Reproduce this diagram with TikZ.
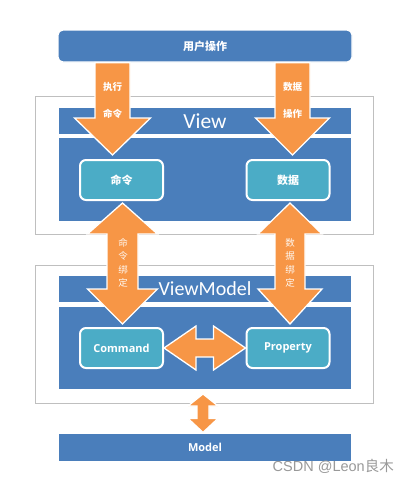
\documentclass[tikz,border=0pt]{standalone}
\usepackage{fontspec}
\setmainfont{Carlito}
\newfontfamily\cjk{Noto Sans CJK SC}
\newfontfamily\boldsans{Open Sans}
\newfontfamily\wmfont{Liberation Sans}
\usetikzlibrary{calc}
\definecolor{barblue}{HTML}{4A7EBB}
\definecolor{teal}{HTML}{4BACC6}
\definecolor{orng}{HTML}{F79646}
\definecolor{outgray}{HTML}{BFBFBF}
\tikzset{
  outerbox/.style={draw=outgray, line width=1pt, fill=white},
  bar/.style={fill=barblue, draw=white, line width=1.2pt, inner sep=0pt},
  tealbox/.style={fill=teal, draw=white, line width=2pt, rounded corners=6pt, inner sep=0pt,
    minimum width=83pt, minimum height=40pt, text=white, font=\boldsans\bfseries\fontsize{11}{13}\selectfont},
  arrowshape/.style={fill=orng, draw=white, line width=1.3pt, line join=miter},
  arrlabel/.style={text=white, font=\cjk\bfseries\fontsize{9.5}{11}\selectfont, inner sep=0pt},
  vlabel/.style={text=white!92!orng, font=\cjk\fontsize{9.5}{13.5}\selectfont, align=center, inner sep=0pt},
}
% down single arrow: #1 start, #2 tip, #3 shaft half, #4 head half, #5 head length
\newcommand\mydownarrow[5]{%
  \draw[arrowshape] ($(#1)+(-#3,0)$) -- ($(#2)+(-#3,-#5)$) -- ($(#2)+(-#4,-#5)$) -- (#2)
    -- ($(#2)+(#4,-#5)$) -- ($(#2)+(#3,-#5)$) -- ($(#1)+(#3,0)$) -- cycle;}
% vertical double arrow: #1 top tip, #2 bottom tip, #3 shaft half, #4 head half, #5 top head len, #6 bottom head len
\newcommand\myvdarrow[6]{%
  \draw[arrowshape] (#1) -- ($(#1)+(#4,#5)$) -- ($(#1)+(#3,#5)$) -- ($(#2)+(#3,-#6)$)
    -- ($(#2)+(#4,-#6)$) -- (#2) -- ($(#2)+(-#4,-#6)$) -- ($(#2)+(-#3,-#6)$)
    -- ($(#1)+(-#3,#5)$) -- ($(#1)+(-#4,#5)$) -- cycle;}
% horizontal double arrow: #1 left tip, #2 right tip, #3 shaft half, #4 head half, #5 head len
\newcommand\myhdarrow[5]{%
  \draw[arrowshape] (#1) -- ($(#1)+(#5,-#4)$) -- ($(#1)+(#5,-#3)$) -- ($(#2)+(-#5,-#3)$)
    -- ($(#2)+(-#5,-#4)$) -- (#2) -- ($(#2)+(-#5,#4)$) -- ($(#2)+(-#5,#3)$)
    -- ($(#1)+(#5,#3)$) -- ($(#1)+(#5,#4)$) -- cycle;}
\begin{document}
\begin{tikzpicture}[x=1pt, y=-1pt]
\useasboundingbox[fill=white] (0,0) rectangle (410,482);

% outer boxes
\node[outerbox, minimum width=338pt, minimum height=138pt, inner sep=0pt] (viewouter) at (204,165.5) {};
\node[outerbox, minimum width=338pt, minimum height=138pt, inner sep=0pt] (vmouter) at (204,334) {};

% bars
\node[bar, rounded corners=5pt, minimum width=294pt, minimum height=32pt, text=white,
  font=\cjk\bfseries\fontsize{11}{13}\selectfont] (user) at (205,46) {用户操作};
\node[bar, minimum width=294pt, minimum height=28pt, text=white, font=\fontsize{21.5}{23}\selectfont] (viewtitle) at (205,121) {View};
\node[bar, minimum width=294pt, minimum height=85pt] (viewbody) at (205,179.5) {};
\node[bar, minimum width=294pt, minimum height=28pt, text=white, font=\fontsize{20}{22}\selectfont] (vmtitle) at (205,289) {ViewModel};
\node[bar, minimum width=294pt, minimum height=84pt] (vmbody) at (205,348) {};
\node[bar, minimum width=294pt, minimum height=29pt, text=white,
  font=\boldsans\bfseries\fontsize{11}{13}\selectfont] (model) at (205,447.5) {Model};

% inner boxes
\node[tealbox, font=\cjk\bfseries\fontsize{11}{13}\selectfont] (cmd) at (121.5,180) {命令};
\node[tealbox, font=\cjk\bfseries\fontsize{11}{13}\selectfont] (data) at (288,180) {数据};
\node[tealbox] (command) at (121.5,348) {Command};
\node[tealbox] (property) at (288,348) {Property};

% down arrows from user operations
\coordinate (a1s) at (112.5,62.6);
\coordinate (a1t) at (112.5,155);
\coordinate (a2s) at (292.5,62.6);
\coordinate (a2t) at (292.5,155);
\mydownarrow{a1s}{a1t}{17.5}{38}{37}
\mydownarrow{a2s}{a2t}{17.5}{37}{37}
\node[arrlabel] (l1) at (112.5,87) {执行};
\node[arrlabel] (l2) at (112.5,114) {命令};
\node[arrlabel] (l3) at (292.5,87) {数据};
\node[arrlabel] (l4) at (292.5,114) {操作};

% binding double arrows
\coordinate (b1t) at ($(cmd.south)+(1,2)$);
\coordinate (b1b) at ($(command.north)+(1,-3)$);
\coordinate (b2t) at ($(data.south)+(2,2)$);
\coordinate (b2b) at ($(property.north)+(2,-3)$);
\myvdarrow{b1t}{b1b}{15.5}{35}{31}{35}
\myvdarrow{b2t}{b2b}{15}{32}{31}{35}
\node[vlabel] (v1) at (123,263) {命\\令\\绑\\定};
\node[vlabel] (v2) at (290,263) {数\\据\\绑\\定};

% command <-> property
\myhdarrow{command.east}{property.west}{9}{22}{32}

% viewmodel <-> model
\coordinate (m1) at (203,394);
\coordinate (m2) at ($(model.north)+(-2,0)$);
\myvdarrow{m1}{m2}{6}{15}{12}{14}

% watermark
\node[text=gray!80, font=\wmfont\fontsize{14.5}{16}\selectfont, anchor=east, inner sep=0pt] (wm) at (394,466) {CSDN @Leon\cjk 良木};
\end{tikzpicture}
\end{document}
